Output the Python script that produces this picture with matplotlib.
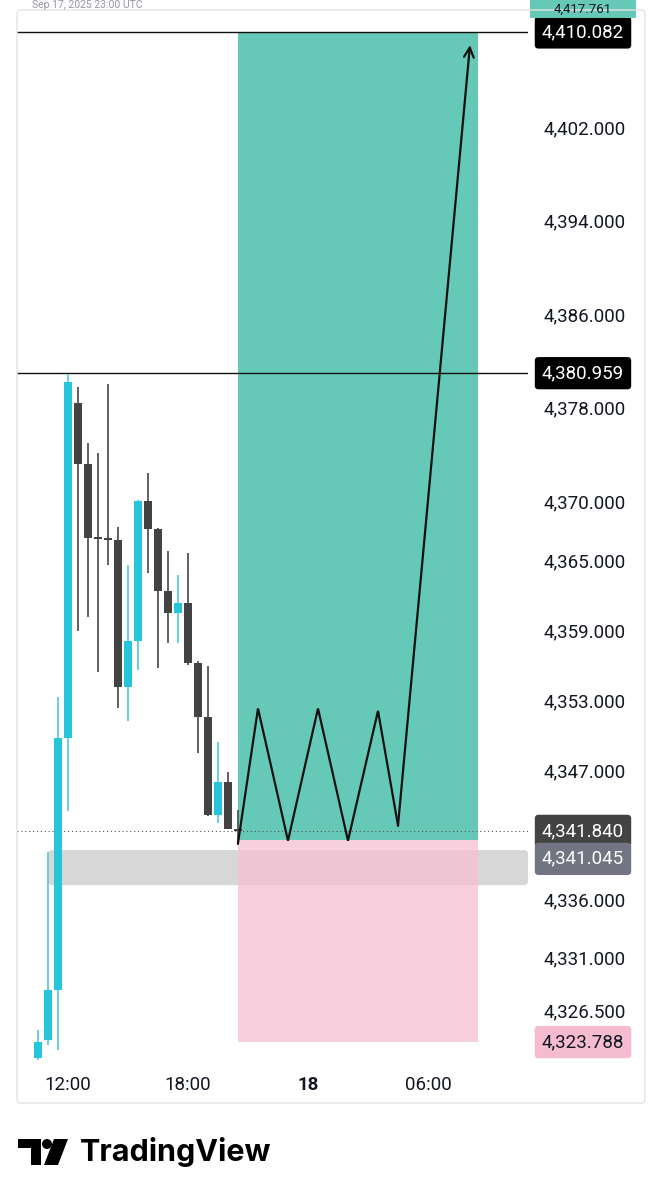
import matplotlib
matplotlib.use("Agg")
import matplotlib.pyplot as plt
import matplotlib.transforms as mtransforms
from matplotlib.patches import Rectangle, FancyBboxPatch, Polygon, Circle

W, H = 661, 1200

# 30 min candles, x = hours since 00:00 of the 17th
candle_hours = [10.5, 11.0, 11.5, 12.0, 12.5, 13.0, 13.5, 14.0, 14.5, 15.0, 15.5,
                16.0, 16.5, 17.0, 17.5, 18.0, 18.5, 19.0, 19.5, 20.0, 20.5]
opens = [4322.4, 4324.0, 4328.2, 4349.8, 4378.4, 4373.2, 4366.9, 4366.8, 4366.7, 4354.1, 4358.1,
         4370.0, 4367.6, 4362.3, 4360.5, 4361.3, 4356.2, 4351.6, 4343.2, 4346.0, 4342.0]
closes = [4323.8, 4328.2, 4349.8, 4380.2, 4373.2, 4366.9, 4366.8, 4366.7, 4354.1, 4358.1, 4370.0,
          4367.6, 4362.3, 4360.5, 4361.3, 4356.2, 4351.6, 4343.2, 4346.0, 4342.0, 4341.84]
highs = [4324.8, 4340.0, 4353.3, 4380.9, 4379.8, 4375.0, 4374.1, 4380.0, 4367.8, 4364.6, 4370.1,
         4372.4, 4367.7, 4365.8, 4363.7, 4365.6, 4356.4, 4355.9, 4349.4, 4346.9, 4343.6]
lows = [4322.3, 4323.5, 4323.1, 4343.5, 4358.9, 4360.1, 4355.4, 4364.6, 4352.3, 4351.2, 4355.6,
        4363.9, 4355.8, 4357.9, 4357.9, 4356.0, 4348.5, 4343.1, 4342.5, 4342.0, 4340.6]

price_ticks = [4402.0, 4394.0, 4386.0, 4378.0, 4370.0, 4365.0, 4359.0, 4353.0, 4347.0,
               4336.0, 4331.0, 4326.5]
time_ticks = [12, 18, 24, 30]
time_labels = ["12:00", "18:00", "18", "06:00"]

target_price = 4410.082
level_price = 4380.959
last_price = 4341.840
entry_price = 4341.045
stop_price = 4323.788

# grey support zone
zone_start = 11.0
zone_top = 4340.2
zone_bottom = 4337.2

# long position box
pos_start = 20.5
pos_end = 32.5

# projected path
path_hours = [20.5, 21.5, 23.0, 24.5, 26.0, 27.5, 28.5]
path_prices = [4340.8, 4352.3, 4341.0, 4352.3, 4341.0, 4352.1, 4342.3]
arrow_hour = 32.1
arrow_price = 4409.0

# colors
UP = "#26C6DA"
UP_WICK = "#5ccddd"
DOWN = "#434343"
DOWN_WICK = "#555555"
TEAL = "#66C9B7"
PINK = "#F6BFD2"
TEXT = "#131722"

plt.rcParams["font.family"] = ["Roboto", "DejaVu Sans"]

fig = plt.figure(figsize=(W / 100, H / 100), dpi=100)
ax = fig.add_axes([17 / W, 1 - 1065 / H, (528 - 17) / W, (1065 - 10) / H])
ax.set_xlim(9.45, 35.0)
ax.set_ylim(4321.83, 4412.0)
for s in ax.spines.values():
    s.set_visible(False)

# zone + position boxes
ax.add_patch(FancyBboxPatch((zone_start, zone_bottom), 35.0 - zone_start, zone_top - zone_bottom,
                            boxstyle="round,pad=0,rounding_size=0.25", mutation_aspect=1.2,
                            facecolor="#d7d7d7", edgecolor="none", zorder=1))
ax.add_patch(Rectangle((pos_start, entry_price), pos_end - pos_start, target_price - entry_price,
                       facecolor=TEAL, edgecolor="none", zorder=2))
ax.add_patch(Rectangle((pos_start, stop_price), pos_end - pos_start, entry_price - stop_price,
                       facecolor=PINK, alpha=0.75, edgecolor="none", zorder=2))

# horizontal levels
ax.axhline(target_price, color="#111111", lw=1.0, zorder=3)
ax.axhline(level_price, color="#111111", lw=1.0, zorder=3)
ax.axhline(last_price, color="#555555", lw=0.8, ls=(0, (1, 2.5)), zorder=3)

# candles
for t, o, c, hi, lo in zip(candle_hours, opens, closes, highs, lows):
    up = c > o
    col = UP if up else DOWN
    ax.vlines(t, lo, hi, color=UP_WICK if up else DOWN_WICK, lw=1.3, zorder=4)
    bottom = min(o, c)
    height = max(abs(c - o), 0.18)
    ax.add_patch(Rectangle((t - 0.18, bottom), 0.36, height, facecolor=col,
                           edgecolor="none", zorder=5))

# projected zigzag
ax.plot(path_hours, path_prices, color="#111111", lw=1.6, zorder=6, solid_joinstyle="miter")
ax.annotate("", xy=(arrow_hour, arrow_price), xytext=(path_hours[-1], path_prices[-1]),
            arrowprops=dict(arrowstyle="->,head_length=0.7,head_width=0.35", color="#111111",
                            lw=1.6, shrinkA=0, shrinkB=0), zorder=6)

# axes ticks
ax.yaxis.tick_right()
ax.set_yticks(price_ticks)
ax.set_yticklabels([f"{v:,.3f}" for v in price_ticks])
ax.tick_params(axis="y", length=0, pad=11, labelsize=13.5, labelcolor=TEXT)
ax.set_xticks(time_ticks)
ax.set_xticklabels(time_labels)
ax.tick_params(axis="x", length=0, pad=8, labelsize=13.5, labelcolor=TEXT)
ax.get_xticklabels()[2].set_fontweight("bold")

# boxed price labels on the scale
lab_tr = mtransforms.blended_transform_factory(fig.transFigure, ax.transData)
boxed = [(target_price, target_price, "#000000", "white"),
         (level_price, level_price, "#000000", "white"),
         (last_price, last_price, "#434343", "white"),
         (4339.45, entry_price, "#737482", "white"),
         (stop_price, stop_price, "#F5BCD0", TEXT)]
for ypos, val, fc, tc in boxed:
    ax.text(583 / W, ypos, f"{val:,.3f}", transform=lab_tr, ha="center", va="center",
            fontsize=13.5, color=tc, clip_on=False, zorder=10,
            bbox=dict(boxstyle="round,pad=0.38,rounding_size=0.2", fc=fc, ec="none"))

# small items at the very top edge
fig.patches.append(Rectangle((530 / W, 1 - 18 / H), 106 / W, 18 / H,
                             transform=fig.transFigure, facecolor=TEAL, edgecolor="none"))
fig.text(583 / W, 1 - 9 / H, "4,417.761", ha="center", va="center", fontsize=9.5, color=TEXT)
fig.text(32 / W, 1 - 5 / H, "Sep 17, 2025 23:00 UTC", ha="left", va="center",
         fontsize=7.5, color="#9598a1")

# chart frame
fig.patches.append(FancyBboxPatch((17 / W, 1 - 1103 / H), (645 - 17) / W, (1103 - 10) / H,
                                  boxstyle="round,pad=0,rounding_size=0.004",
                                  transform=fig.transFigure, facecolor="none",
                                  edgecolor="#e3e3e3", lw=1.0))

# TradingView logo
px = mtransforms.Affine2D().scale(1 / W, -1 / H).translate(0, 1) + fig.transFigure
fig.patches.append(Rectangle((18, 1139), 23, 9, transform=px, facecolor="black"))
fig.patches.append(Rectangle((31, 1139), 10, 26, transform=px, facecolor="black"))
fig.patches.append(Circle((47, 1144), 5, transform=px, facecolor="black"))
fig.patches.append(Polygon([(54, 1139), (68, 1139), (58, 1165), (44, 1165)], closed=True,
                           transform=px, facecolor="black"))
fig.text(80 / W, 1 - 1152 / H, "TradingView", ha="left", va="center", fontsize=22,
         fontweight="bold", family=["Inter", "DejaVu Sans"], color="black")

fig.savefig("out.png", dpi=100)
